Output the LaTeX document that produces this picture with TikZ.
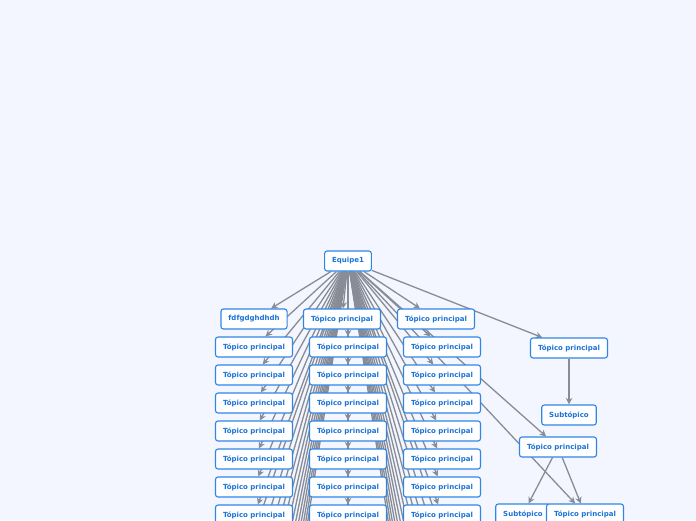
\documentclass[tikz,border=0pt]{standalone}
\usepackage{fontspec}
\setsansfont{DejaVu Sans}
\usetikzlibrary{arrows.meta}
\definecolor{bgcol}{HTML}{F3F6FE}
\definecolor{topicblue}{HTML}{2F86E8}
\definecolor{topictext}{HTML}{1B72D8}
\definecolor{linkgray}{HTML}{878C96}
\pgfdeclarelayer{back}
\pgfsetlayers{back,main}
\tikzset{
  topic/.style={draw=topicblue, fill=white, rounded corners=2.5pt, line width=1.1pt,
    minimum height=20pt, inner xsep=7.5pt, inner ysep=0pt, text=topictext,
    font=\sffamily\bfseries\fontsize{7}{8}\selectfont},
  link/.style={draw=linkgray, line width=1.3pt, -{Stealth[length=6.5pt,width=6.5pt]}}
}
\begin{document}
\begin{tikzpicture}[x=1pt,y=-1pt]
\clip (0,0) rectangle (696,520);
% central topic and first row
\node[topic] (eq) at (348,261) {Equipe1};
\node[topic] (a1) at (254,319) {fdfgdghdhdh};
\node[topic] (b1) at (342,319) {Tópico principal};
\node[topic] (c1) at (436,319) {Tópico principal};
% the three columns
\foreach \i in {1,...,7} {
  \node[topic] (l\i) at (254,319+28*\i) {Tópico principal};
  \node[topic] (m\i) at (348,319+28*\i) {Tópico principal};
  \node[topic] (r\i) at (442,319+28*\i) {Tópico principal};
}
% the columns go on below the page
\foreach \i in {8,...,20} {
  \coordinate (l\i) at (254,309+28*\i);
  \coordinate (m\i) at (348,309+28*\i);
  \coordinate (r\i) at (442,309+28*\i);
}
% right branch
\node[topic] (t1) at (569,348) {Tópico principal};
\node[topic] (s1) at (569,415) {Subtópico};
\node[topic] (t2) at (558,447) {Tópico principal};
\node[topic] (s2) at (523,514) {Subtópico};
\node[topic] (t3) at (585,514) {Tópico principal};
\begin{pgfonlayer}{back}
\fill[bgcol] (0,0) rectangle (696,520);
\foreach \n in {a1,b1,c1,t1,t2,t3}
  \draw[link] (eq) -- (\n);
\foreach \i in {1,...,20} {
  \draw[link] (eq) -- (l\i);
  \draw[link] (eq) -- (m\i);
  \draw[link] (eq) -- (r\i);
}
\draw[link] (t1) -- (s1);
\draw[link] (t2) -- (s2);
\draw[link] (t2) -- (t3);
\end{pgfonlayer}
\end{tikzpicture}
\end{document}
